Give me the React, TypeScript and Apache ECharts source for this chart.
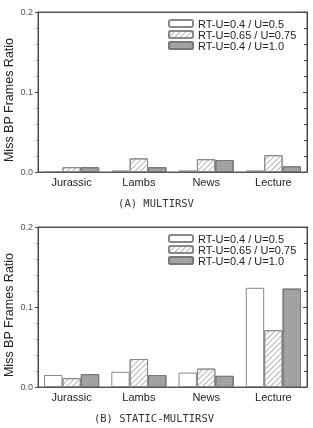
import React, { useEffect, useRef } from "react";
import * as echarts from "echarts";

const categories = ["Jurassic", "Lambs", "News", "Lecture"];
const seriesNames = ["RT-U=0.4 / U=0.5", "RT-U=0.65 / U=0.75", "RT-U=0.4 / U=1.0"];
const multiLow = [0.001, 0.002, 0.002, 0.002];
const multiMid = [0.006, 0.017, 0.016, 0.021];
const multiHigh = [0.006, 0.006, 0.015, 0.007];
const staticLow = [0.015, 0.019, 0.018, 0.124];
const staticMid = [0.011, 0.035, 0.023, 0.071];
const staticHigh = [0.016, 0.015, 0.014, 0.123];
const yTicks = { min: 0, max: 0.2, interval: 0.1 };
const captions = ["(A) MULTIRSV", "(B) STATIC-MULTIRSV"];
const yTitle = "Miss BP Frames Ratio";

const AXIS = "#555";
const FONT = "Liberation Sans, Arial, sans-serif";

const styles = [
  { color: "#ffffff", borderColor: "#888", borderWidth: 1 },
  {
    color: "#ffffff",
    borderColor: "#888",
    borderWidth: 1,
    decal: {
      symbol: "rect",
      symbolSize: 1,
      color: "#b4b4b4",
      dashArrayX: [1, 0],
      dashArrayY: [1, 3],
      rotation: -Math.PI / 4,
    },
  },
  {
    color: "#a8a8a8",
    borderColor: "#777",
    borderWidth: 1,
    decal: {
      symbol: "rect",
      symbolSize: 1,
      color: "rgba(90,90,90,0.3)",
      dashArrayX: [1, 1],
      dashArrayY: [1, 1],
      rotation: 0,
    },
  },
];

export default function App() {
  const ref = useRef<HTMLDivElement>(null);
  useEffect(() => {
    if (!ref.current) return;
    const chart = echarts.init(ref.current, null, { renderer: "svg" });
    const tops = [12, 227];
    const grids = tops.map((t) => ({
      left: 38,
      width: 269,
      top: t,
      height: 160,
      show: true,
      borderColor: AXIS,
      borderWidth: 1,
    }));
    const xAxis: any[] = [];
    const yAxis: any[] = [];
    const series: any[] = [];
    const legends: any[] = [];
    const graphic: any[] = [];
    const datasets = [
      [multiLow, multiMid, multiHigh],
      [staticLow, staticMid, staticHigh],
    ];
    const yAx = (g: number, pos: string) => ({
      type: "value",
      gridIndex: g,
      min: yTicks.min,
      max: yTicks.max,
      interval: yTicks.interval,
      position: pos,
      axisLine: { show: true, onZero: false, lineStyle: { color: "#444", width: 1 } },
      axisTick: { show: true, inside: pos === "right", length: pos === "right" ? 4 : 3, lineStyle: { color: "#444" } },
      minorTick: { show: true, splitNumber: 5, length: pos === "right" ? 3 : 2, lineStyle: { color: pos === "right" ? "#444" : "#888" } },
      splitLine: { show: false },
      axisLabel: {
        show: pos === "left",
        color: "#555",
        fontSize: 9,
        fontFamily: FONT,
        margin: 5,
        formatter: (v: number) => v.toFixed(1),
      },
    });
    tops.forEach((t, g) => {
      xAxis.push({
        type: "category",
        gridIndex: g,
        data: categories,
        position: "bottom",
        axisLine: { lineStyle: { color: AXIS } },
        axisTick: { length: 2, lineStyle: { color: AXIS } },
        axisLabel: { color: "#222", fontSize: 11, fontFamily: FONT, margin: 4 },
      });
      xAxis.push({
        type: "category",
        gridIndex: g,
        data: categories,
        position: "top",
        axisLine: { onZero: false, lineStyle: { color: AXIS } },
        axisTick: { alignWithLabel: true, inside: true, length: 3, lineStyle: { color: AXIS } },
        axisLabel: { show: false },
      });
      yAxis.push(yAx(g, "left"));
      yAxis.push(yAx(g, "right"));
      datasets[g].forEach((vals, i) => {
        series.push({
          type: "bar",
          name: seriesNames[i],
          xAxisIndex: g * 2,
          yAxisIndex: g * 2,
          data: vals,
          barGap: "0%",
          barCategoryGap: "18%",
          itemStyle: styles[i],
        });
      });
      legends.push({
        orient: "vertical",
        left: 168,
        top: t + 6,
        itemWidth: 24,
        itemHeight: 7,
        itemGap: 0,
        itemTextGap: 3,
        data: seriesNames,
        textStyle: { fontSize: 11, lineHeight: 11, fontFamily: FONT, color: "#222", padding: 0 },
        padding: 0,
        selectedMode: false,
      });
      graphic.push({
        type: "text",
        x: 9,
        y: t + 88,
        rotation: Math.PI / 2,
        style: {
          text: yTitle,
          fontSize: 12.5,
          fontFamily: FONT,
          fill: "#222",
          textAlign: "center",
          textVerticalAlign: "middle",
        },
      });
      graphic.push({
        type: "text",
        x: g === 0 ? 156 : 154,
        y: t + 191,
        style: {
          text: captions[g],
          fontSize: 10.5,
          fontFamily: "DejaVu Sans Mono, monospace",
          fill: "#333",
          textAlign: "center",
          textVerticalAlign: "middle",
        },
      });
    });
    chart.setOption({
      animation: false,
      grid: grids,
      xAxis,
      yAxis,
      series,
      legend: legends,
      graphic,
    });
    return () => chart.dispose();
  }, []);
  return (
    <div style={{ position: "fixed", left: 0, top: 0 }}>
      <div ref={ref} style={{ width: 313, height: 428 }} />
    </div>
  );
}
